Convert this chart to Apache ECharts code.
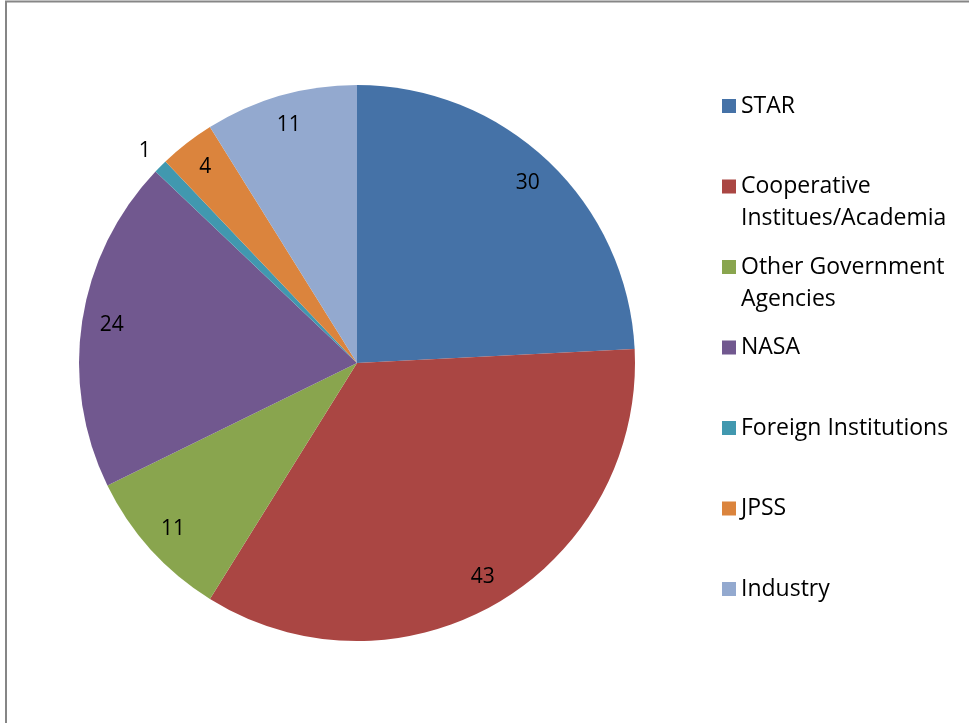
<!DOCTYPE html>
<html>
<head>
<meta charset="utf-8">
<script src="https://cdn.jsdelivr.net/npm/echarts@6/dist/echarts.min.js"></script>
<style>
  html, body { margin: 0; padding: 0; background: #fff; }
  #chart { width: 969px; height: 723px; }
</style>
</head>
<body>
<div id="chart"></div>
<script>
const categories = ['STAR', 'Cooperative Institues/Academia', 'Other Government Agencies', 'NASA', 'Foreign Institutions', 'JPSS', 'Industry']
const legendLabels = ['STAR', 'Cooperative\nInstitues/Academia', 'Other Government\nAgencies', 'NASA', 'Foreign Institutions', 'JPSS', 'Industry']
const values = [30, 43, 11, 24, 1, 4, 11]
const colors = ['#4572A7', '#AA4643', '#89A54E', '#71588F', '#4198AF', '#DB843D', '#93A9CF']

const chart = echarts.init(document.getElementById('chart'), null, { renderer: 'canvas' })
const FONT = '"Open Sans", "DejaVu Sans", sans-serif'
const cx = 357
const cy = 363
const R = 278

// square sits on the first text line; every entry gets two lines so slots are equal
const legendIcon = 'path://M0,9H14V23H0Z M0,0L0.01,0Z M0,64L0.01,64Z'

const option = {
  animation: false,
  color: colors,
  graphic: [
    {
      type: 'rect',
      shape: { x: 6, y: 1.5, width: 2000, height: 2000 },
      style: { fill: 'none', stroke: '#868686', lineWidth: 2 }
    }
  ],
  legend: {
    orient: 'vertical',
    left: 722,
    top: 90,
    padding: 0,
    itemWidth: 14,
    itemHeight: 64,
    itemGap: 16.5,
    icon: legendIcon,
    data: categories,
    formatter: function (name) {
      const label = legendLabels[categories.indexOf(name)]
      return label.indexOf('\n') >= 0 ? label : label + '\n '
    },
    textStyle: {
      fontFamily: FONT,
      fontSize: 23,
      lineHeight: 32,
      color: '#000'
    }
  },
  series: [
    {
      type: 'pie',
      center: [cx, cy],
      radius: [0, R],
      startAngle: 90,
      clockwise: true,
      data: categories.map((name, i) => ({ name: name, value: values[i] })),
      itemStyle: { borderWidth: 0 },
      emphasis: { disabled: true },
      label: {
        show: true,
        position: 'inside',
        formatter: '{c}',
        fontFamily: FONT,
        fontSize: 21,
        color: '#000'
      },
      labelLine: { show: false },
      labelLayout: function (params) {
        const r = params.labelRect
        const lx = r.x + r.width / 2
        const ly = r.y + r.height / 2
        const dx = lx - cx
        const dy = ly - cy
        const d = Math.sqrt(dx * dx + dy * dy) || 1
        // small slices get their label outside the pie
        const target = params.dataIndex === 4 ? 300 : 248
        return {
          x: cx + dx / d * target,
          y: cy + dy / d * target,
          align: 'center',
          verticalAlign: 'middle'
        }
      }
    }
  ]
}

chart.setOption(option)
window.addEventListener('resize', function () {
  chart.resize()
})
</script>
</body>
</html>
